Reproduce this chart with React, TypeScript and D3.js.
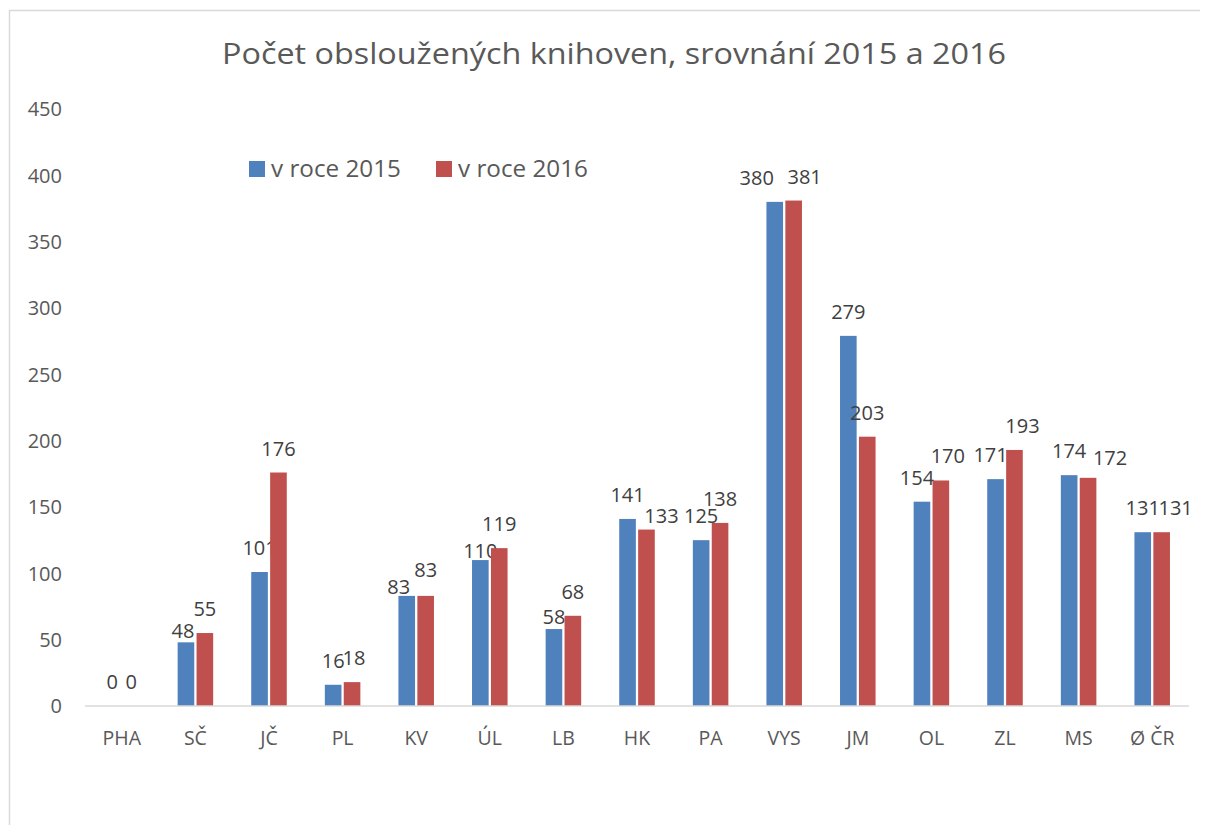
import React, { useEffect } from "react";
import * as d3 from "d3";

const categories = ["PHA", "SČ", "JČ", "PL", "KV", "ÚL", "LB", "HK", "PA", "VYS", "JM", "OL", "ZL", "MS", "Ø ČR"];
const series2015 = [0, 48, 101, 16, 83, 110, 58, 141, 125, 380, 279, 154, 171, 174, 131];
const series2016 = [0, 55, 176, 18, 83, 119, 68, 133, 138, 381, 203, 170, 193, 172, 131];
const seriesNames = ["v roce 2015", "v roce 2016"];
const seriesColors = ["#4F81BD", "#C0504D"];
const yTicks = [0, 50, 100, 150, 200, 250, 300, 350, 400, 450];
const title = "Počet obsloužených knihoven, srovnání 2015 a 2016";

// manual data-label nudges (px) as placed in the original chart
const labelNudge2015: [number, number][] = [[0, 0], [-3, 13], [0, 0], [0, 0], [-8, 15], [0, 15], [0, 12], [0, 0], [0, 0], [-18, 0], [0, 0], [-5, 0], [-5, 0], [0, 0], [0, 0]];
const labelNudge2016: [number, number][] = [[0, 0], [0, 0], [0, 0], [2, 0], [0, -2], [0, 0], [0, 0], [15, 10], [0, 0], [11, 0], [0, 0], [7, 0], [8, 0], [22, 4], [14, 0]];

const W = 1200;
const H = 817;
const FONT = "'Open Sans', 'DejaVu Sans', sans-serif";
const TEXT = "#595959";

export default function App() {
  useEffect(() => {
    document.documentElement.style.overflow = "hidden";
    document.body.style.overflow = "hidden";
  }, []);

  // svg sits at page offset (8,8)
  const left = 77;
  const right = 1181;
  const top = 101;
  const bottom = 698;

  const x = d3.scaleBand<string>().domain(categories).range([left, right]).paddingInner(0).paddingOuter(0);
  const y = d3.scaleLinear().domain([0, 450]).range([bottom, top]);
  const groupW = x.bandwidth() * 0.514;
  const sub = d3.scaleBand<number>().domain([0, 1]).range([-groupW / 2, groupW / 2]);
  const inset = 1.15;
  const data = [series2015, series2016];
  const nudges = [labelNudge2015, labelNudge2016];

  return (
    <svg width={W} height={H} style={{ display: "block", fontFamily: FONT }}>
      <rect x={0} y={0} width={W} height={H} fill="#fff" />
      <path d={`M1.5,${H} V2.5 H${W}`} fill="none" stroke="#D9D9D9" strokeWidth={1.5} />
      <text x={606} y={56} textAnchor="middle" fontSize={30} fill={TEXT} textLength={784} lengthAdjust="spacingAndGlyphs">{title}</text>

      {yTicks.map((t) => (
        <text key={t} x={54} y={y(t)} dy="0.36em" textAnchor="end" fontSize={20} fill={TEXT}>{t}</text>
      ))}

      {data.map((vals, si) =>
        vals.map((v, i) => {
          const cx = (x(categories[i]) as number) + x.bandwidth() / 2;
          const bx = cx + (sub(si) as number) + inset;
          const bw = sub.bandwidth() - inset * 2;
          const [dx, dy] = nudges[si][i];
          return (
            <g key={`${si}-${i}`}>
              <rect x={bx} y={y(v)} width={bw} height={Math.max(0, y(0) - y(v))} fill={seriesColors[si]} />
              <text x={bx + bw / 2 + dx} y={y(v) - 17 + dy} textAnchor="middle" fontSize={20} fill="#404040">{v}</text>
            </g>
          );
        })
      )}

      <line x1={left} x2={right} y1={bottom} y2={bottom} stroke="#D9D9D9" strokeWidth={1.5} />

      {categories.map((c) => (
        <text key={c} x={(x(c) as number) + x.bandwidth() / 2} y={737} textAnchor="middle" fontSize={19.5} fill={TEXT}>{c}</text>
      ))}

      {seriesNames.map((n, i) => {
        const lx = [241, 428][i];
        return (
          <g key={n}>
            <rect x={lx} y={153} width={16} height={16} fill={seriesColors[i]} />
            <text x={lx + 22} y={168.5} fontSize={23} fill={TEXT} textLength={130} lengthAdjust="spacingAndGlyphs">{n}</text>
          </g>
        );
      })}
    </svg>
  );
}
